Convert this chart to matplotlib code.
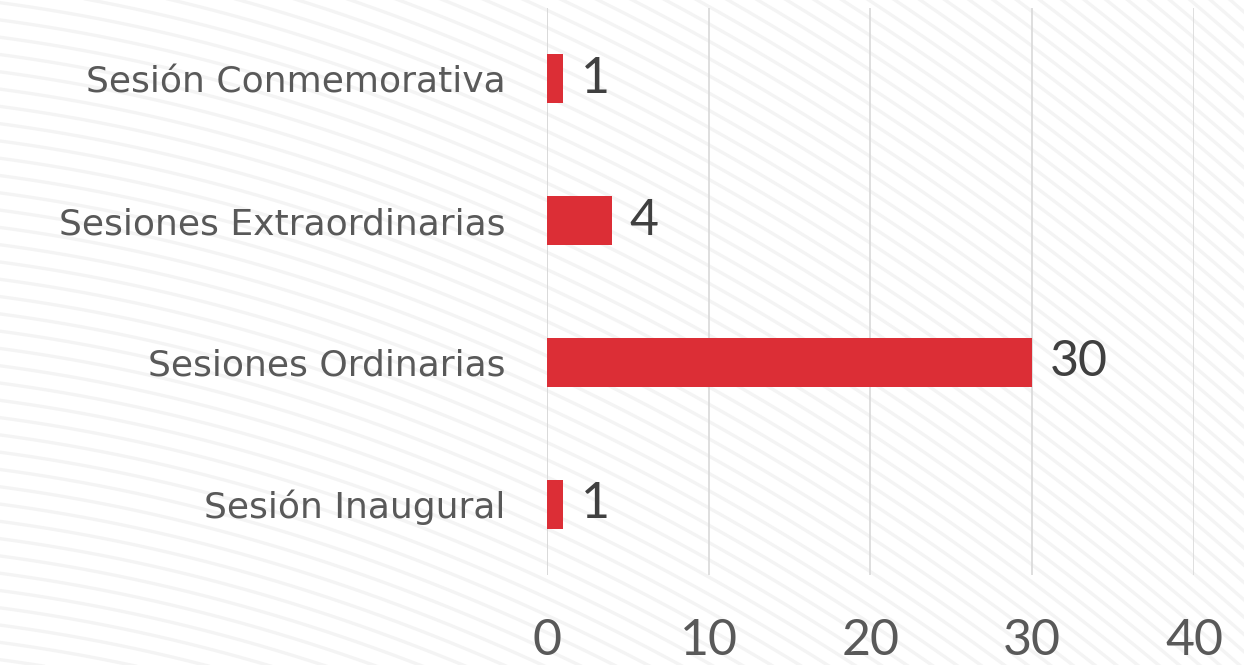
import numpy as np
import matplotlib
matplotlib.use("Agg")
import matplotlib.pyplot as plt

# Datos
categorias = ["Sesión Inaugural", "Sesiones Ordinarias", "Sesiones Extraordinarias", "Sesión Conmemorativa"]
valores = [1, 30, 4, 1]
ticks_x = [0, 10, 20, 30, 40]

plt.rcParams['font.family'] = ['DejaVu Sans']

fig = plt.figure(figsize=(12.44, 6.65), dpi=100)
fig.patch.set_facecolor("white")

# fondo decorativo: lineas curvas muy claras
bg = fig.add_axes([0, 0, 1, 1], zorder=0)
bg.set_xlim(0, 1)
bg.set_ylim(0, 1)
bg.axis("off")
t = np.linspace(-0.2, 1.2, 300)
for k in np.arange(-0.2, 2.4, 0.026):
    y = k - 0.25 * t - 0.7 * t ** 2
    bg.plot(t, y, color="#f4f4f4", lw=2.4, zorder=0)

ax = fig.add_axes([0.4397, 0.1353, 0.5201, 0.8527], zorder=1)
ax.patch.set_alpha(0)

y = np.arange(len(categorias))
barras = ax.barh(y, valores, height=0.345, color="#DC2E36", zorder=2)

for yi, v in zip(y, valores):
    ax.text(v + 1.1, yi, str(v), va="center", ha="left", fontsize=36,
            color="#404040", family=["Lato", "DejaVu Sans"])

ax.set_xlim(0, 40)
ax.set_ylim(-0.5, 3.5)
ax.set_xticks(ticks_x)
ax.set_xticklabels([str(v) for v in ticks_x], family=["Lato", "DejaVu Sans"])
ax.set_yticks(y)
ax.set_yticklabels(categorias, fontsize=26, color="#595959")
ax.tick_params(axis="x", length=0, pad=31, labelsize=36, labelcolor="#595959")
ax.tick_params(axis="y", length=0, pad=30)
ax.grid(axis="x", color="#d9d9d9", lw=1.2, zorder=0)
for s in ax.spines.values():
    s.set_visible(False)
ax.axvline(0, color="#d9d9d9", lw=1.2, zorder=1)

fig.savefig("out.png", dpi=100)
